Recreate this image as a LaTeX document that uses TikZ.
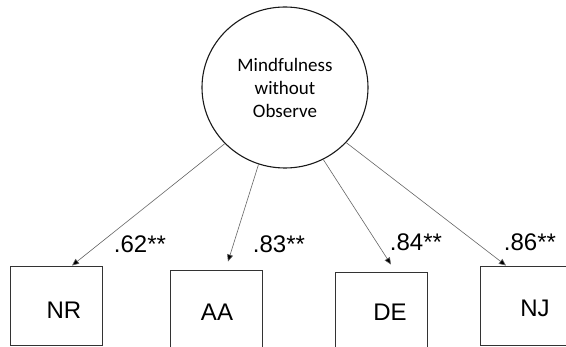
\documentclass[tikz,border=0pt]{standalone}
\usepackage{fontspec}
\setmainfont{Liberation Sans}
\newfontfamily\calfont{Carlito}
\usetikzlibrary{arrows.meta,shapes.geometric}
\begin{document}
\begin{tikzpicture}[x=1pt,y=-1pt,
  box/.style={draw=black!80,line width=0.9pt,minimum width=92pt,minimum height=79pt,inner sep=0pt},
  lab/.style={font=\fontsize{24}{28}\selectfont,inner sep=0pt},
  load/.style={font=\fontsize{24}{28}\selectfont,inner sep=0pt},
  conn/.style={draw=black!60,line width=0.6pt,-{Triangle[length=7pt,width=6pt,fill=black]}},
  latent/.style={draw=black!90,ellipse,line width=1.1pt,minimum width=166pt,minimum height=161pt,inner sep=0pt,align=center,font=\calfont\fontsize{19}{23}\selectfont}]
\useasboundingbox (0,0) rectangle (566,347);
\clip (0,0) rectangle (566,347);
\fill[white] (0,0) rectangle (566,347);
\node[latent] (lat) at (285,87.5) {Mindfulness\\without\\Observe};

\node[box] (nr) at (56,305.5) {};
\node[box] (aa) at (216.5,309.5) {};
\node[box] (de) at (381.5,311.5) {};
\node[box] (nj) at (526,305.5) {};

\node[lab] (tnr) at (64,310) {NR};
\node[lab] (taa) at (217,312) {AA};
\node[lab] (tde) at (390,312) {DE};
\node[lab] (tnj) at (535,308) {NJ};

\draw[conn] (lat.223) -- ([xshift=16pt]nr.north);
\draw[conn] (lat.251) -- ([xshift=11.5pt,yshift=8pt]aa.north);
\draw[conn] (lat.298) -- ([xshift=9.5pt,yshift=7pt]de.north);
\draw[conn] (lat.318) -- ([xshift=-20pt]nj.north);

\node[load] (l1) at (140,244) {.62**};
\node[load] (l2) at (279,244) {.83**};
\node[load] (l3) at (416,242) {.84**};
\node[load] (l4) at (530,242) {.86**};
\end{tikzpicture}
\end{document}
